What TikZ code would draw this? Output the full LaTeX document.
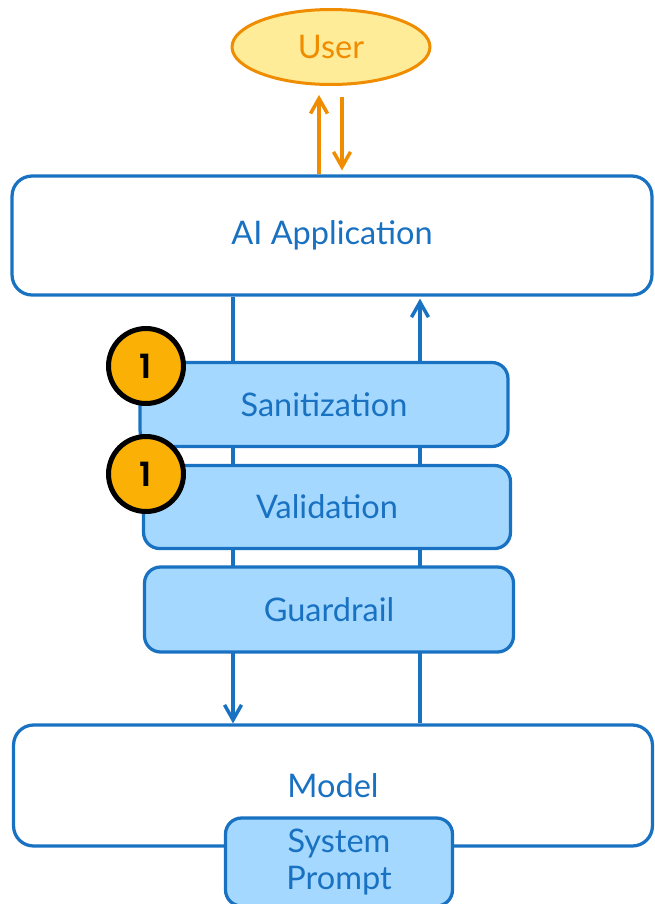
\documentclass[tikz,border=0pt]{standalone}
\usepackage{fontspec}
\setmainfont{Lato}
\newfontfamily\badgefont{Poppins}[UprightFont=* SemiBold]
\usetikzlibrary{shapes.geometric,arrows.meta}
\definecolor{strokeblue}{HTML}{1971C2}
\definecolor{layerblue}{HTML}{A5D8FF}
\definecolor{useryellow}{HTML}{FFEC99}
\definecolor{userorange}{HTML}{F08C00}
\definecolor{badgeyellow}{HTML}{FAB005}

\tikzset{
  layer/.style={draw=strokeblue, line width=0.065cm, rounded corners=0.32cm,
    text=strokeblue, inner sep=0pt, align=center,
    font=\fontsize{18.5}{21}\selectfont},
  appbox/.style={layer, fill=white, rounded corners=0.4cm},
  checkbox/.style={layer, fill=layerblue},
  flow/.style={strokeblue, line width=0.07cm,
    -{Straight Barb[length=0.3cm,width=0.34cm]}},
  userflow/.style={flow, userorange},
  badge/.style={circle, draw=black, line width=0.1cm, fill=badgeyellow,
    minimum size=1.5cm, inner sep=0pt,
    font=\badgefont\fontsize{19}{20}\selectfont},
}

\begin{document}
\begin{tikzpicture}[x=0.02cm, y=-0.02cm]
  \useasboundingbox (0,0) rectangle (654,904);

  % user and the two big boxes
  \node[ellipse, draw=userorange, line width=0.06cm, fill=useryellow,
    text=userorange, font=\fontsize{18.5}{21}\selectfont,
    minimum width=3.96cm, minimum height=1.5cm] (user) at (331,47) {User};
  \node[appbox, minimum width=12.8cm, minimum height=2.38cm] (app) at (332,235.5) {AI Application};
  \node[appbox, minimum width=12.78cm, minimum height=2.42cm] (model) at (333,785.5) {Model};

  % traffic between user and app
  \coordinate (toUser) at ([xshift=-0.26cm]app.north);
  \coordinate (fromUser) at ([xshift=0.2cm]app.north);
  \draw[userflow, shorten >=0.18cm] (toUser) -- (toUser |- user.south);
  \draw[userflow, shorten <=0.22cm, shorten >=0.08cm] (fromUser |- user.south) -- (fromUser);

  % traffic between app and model, behind the checks
  \coordinate (toModel) at ([xshift=-1.98cm]app.south);
  \coordinate (fromModel) at ([xshift=1.74cm]model.north);
  \draw[flow] (toModel) -- (toModel |- model.north);
  \draw[flow, shorten >=0.04cm] (fromModel) -- (fromModel |- app.south);

  % the checks
  \node[checkbox, minimum width=7.36cm, minimum height=1.68cm] (san) at (324,404.5) {Sanitization};
  \node[checkbox, minimum width=7.34cm, minimum height=1.66cm] (val) at (327,507) {Validation};
  \node[checkbox, minimum width=7.38cm, minimum height=1.7cm] (guard) at (329,609.5) {Guardrail};
  \node[checkbox, minimum width=4.54cm, minimum height=1.76cm] (sys) at (339,862) {System\\Prompt};

  \node[badge] (sanBadge) at (146,366) {1};
  \node[badge] (valBadge) at (146,474) {1};
\end{tikzpicture}
\end{document}
